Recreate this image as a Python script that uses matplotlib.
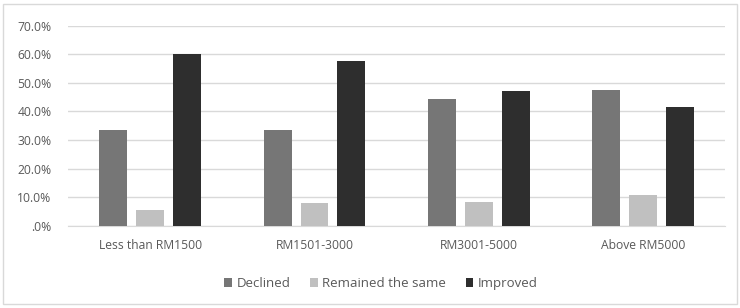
import numpy as np
import matplotlib.pyplot as plt
from matplotlib.patches import Rectangle

# income groups and shares (fraction)
categories = ['Less than RM1500', 'RM1501-3000', 'RM3001-5000', 'Above RM5000']
declined = [0.335, 0.337, 0.442, 0.475]
remained = [0.055, 0.080, 0.083, 0.107]
improved = [0.602, 0.576, 0.473, 0.417]
series_names = ['Declined', 'Remained the same', 'Improved']
colors = ['#767676', '#c0c0c0', '#2e2e2e']

plt.rcParams['font.family'] = ['Open Sans', 'DejaVu Sans']

fig = plt.figure(figsize=(7.4, 3.08), dpi=100)
ax = fig.add_axes([0.092, 0.266, 0.888, 0.651])

# light frame around whole chart
fig.patches.append(Rectangle((0.004, 0.012), 0.992, 0.975, transform=fig.transFigure,
                             fill=False, edgecolor='#d9d9d9', linewidth=1))

x = np.arange(len(categories))
w = 0.17
step = 0.225
for i, (vals, name) in enumerate(zip([declined, remained, improved], series_names)):
    ax.bar(x + (i - 1) * step, vals, width=w, color=colors[i], label=name, zorder=3)

ax.set_xlim(-0.5, 3.5)
ax.set_ylim(0, 0.7)
yt = np.arange(0, 0.71, 0.1)
ax.set_yticks(yt)
ax.set_yticklabels(['.0%'] + ['%.1f%%' % (v * 100) for v in yt[1:]])
ax.set_xticks(x)
ax.set_xticklabels(categories)
ax.grid(axis='y', color='#d9d9d9', linewidth=1, zorder=0)
for s in ['top', 'right', 'left']:
    ax.spines[s].set_visible(False)
ax.spines['bottom'].set_color('#d9d9d9')
ax.tick_params(axis='both', length=0, labelsize=8.7, labelcolor='#595959')
ax.tick_params(axis='x', pad=9)
ax.tick_params(axis='y', pad=12)

ax.legend(loc='upper center', bbox_to_anchor=(0.476, -0.195), ncol=3, frameon=False,
          fontsize=9.5, labelcolor='#595959', handlelength=0.6, handleheight=0.6,
          handletextpad=0.3, columnspacing=1.5)

fig.savefig('out.png', dpi=100)
